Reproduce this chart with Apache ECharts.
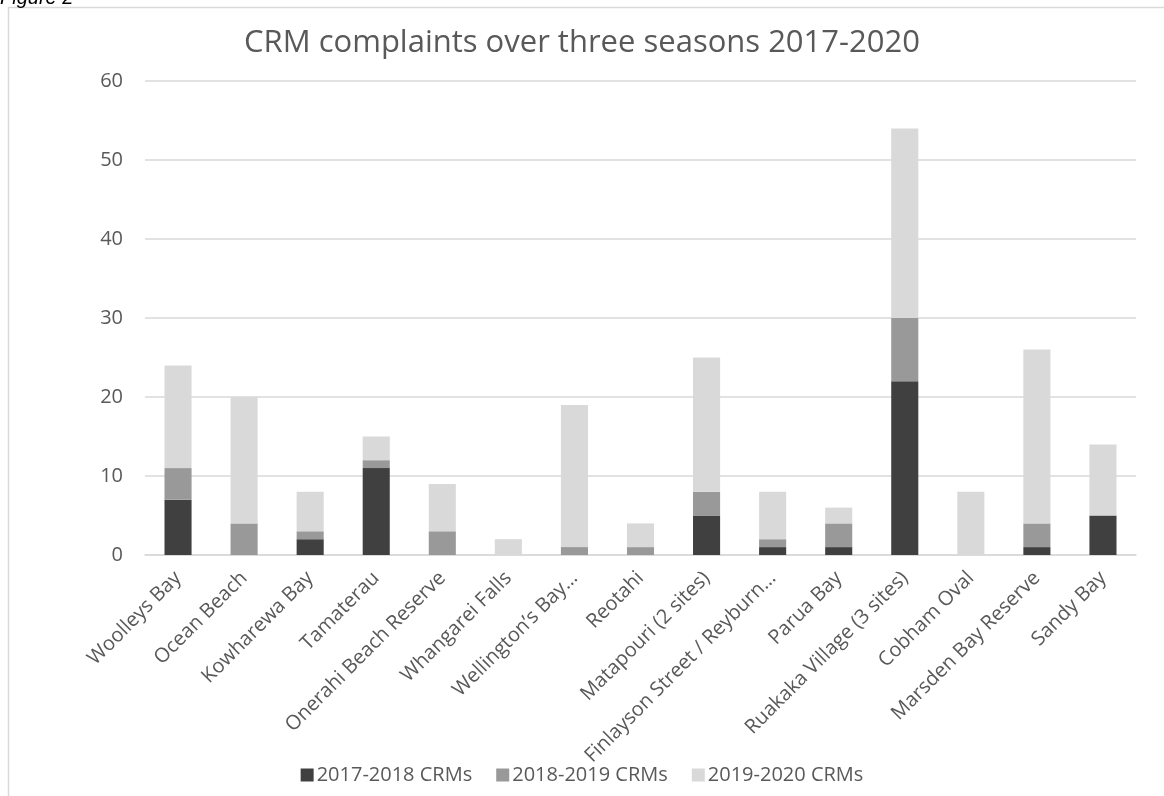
<!DOCTYPE html>
<html>
<head>
<meta charset="utf-8">
<script src="https://cdn.jsdelivr.net/npm/echarts@6/dist/echarts.min.js"></script>
<style>
  html, body { margin: 0; padding: 0; background: #ffffff; }
  #chart { width: 1164px; height: 796px; }
</style>
</head>
<body>
<div id="chart"></div>
<script>
// Sites, in display order
const sites = [
  'Woolleys Bay', 'Ocean Beach', 'Kowharewa Bay', 'Tamaterau',
  'Onerahi Beach Reserve', 'Whangarei Falls', 'Wellington\u2019s Bay\u2026',
  'Reotahi', 'Matapouri (2 sites)', 'Finlayson Street / Reyburn\u2026',
  'Parua Bay', 'Ruakaka Village (3 sites)', 'Cobham Oval',
  'Marsden Bay Reserve', 'Sandy Bay'
];

// Complaints per season
const season2017 = [7, 0, 2, 11, 0, 0, 0, 0, 5, 1, 1, 22, 0, 1, 5];
const season2018 = [4, 4, 1, 1, 3, 0, 1, 1, 3, 1, 3, 8, 0, 3, 0];
const season2019 = [13, 16, 5, 3, 6, 2, 18, 3, 17, 6, 2, 24, 8, 22, 9];

const seriesNames = ['2017-2018 CRMs', '2018-2019 CRMs', '2019-2020 CRMs'];
const yTicks = [0, 10, 20, 30, 40, 50, 60];

const textColor = '#595959';
const font = '"Open Sans", "Liberation Sans", sans-serif';

const chart = echarts.init(document.getElementById('chart'), null, { renderer: 'canvas' });

function barSeries(name, data, color) {
  return {
    name: name,
    type: 'bar',
    stack: 'total',
    data: data,
    barWidth: '41%',
    itemStyle: { color: color },
    emphasis: { disabled: true }
  };
}

chart.setOption({
  animation: false,
  backgroundColor: '#ffffff',
  title: {
    text: 'CRM complaints over three seasons 2017-2020',
    left: 'center',
    top: 23,
    textStyle: { fontFamily: font, fontSize: 31, fontWeight: 'normal', color: textColor }
  },
  legend: {
    bottom: 6,
    left: 'center',
    itemWidth: 13,
    itemHeight: 13,
    itemGap: 24,
    icon: 'rect',
    data: seriesNames,
    textStyle: { fontFamily: font, fontSize: 20, color: textColor, padding: [0, 0, 0, -2] }
  },
  grid: { left: 145, right: 28, top: 81, bottom: 241 },
  xAxis: {
    type: 'category',
    data: sites,
    axisLine: { lineStyle: { color: '#d9d9d9', width: 1.5 } },
    axisTick: { show: false },
    axisLabel: {
      rotate: 45,
      interval: 0,
      margin: 20,
      fontFamily: font,
      fontSize: 20,
      color: textColor
    }
  },
  yAxis: {
    type: 'value',
    min: yTicks[0],
    max: yTicks[yTicks.length - 1],
    interval: 10,
    axisLine: { show: false },
    axisTick: { show: false },
    splitLine: { lineStyle: { color: '#d9d9d9', width: 1.5 } },
    axisLabel: { margin: 22, fontFamily: font, fontSize: 20, color: textColor }
  },
  series: [
    barSeries(seriesNames[0], season2017, '#404040'),
    barSeries(seriesNames[1], season2018, '#999999'),
    barSeries(seriesNames[2], season2019, '#d9d9d9')
  ],
  graphic: [
    {
      type: 'rect',
      shape: { x: 8.5, y: 7.5, width: 1170, height: 800 },
      style: { fill: 'none', stroke: '#d9d9d9', lineWidth: 1.5 },
      silent: true
    },
    {
      type: 'text',
      left: 0,
      top: -12,
      style: { text: 'Figure 2', font: 'italic 20px "Liberation Sans", sans-serif', fill: '#000000' },
      silent: true
    }
  ]
});
</script>
</body>
</html>
